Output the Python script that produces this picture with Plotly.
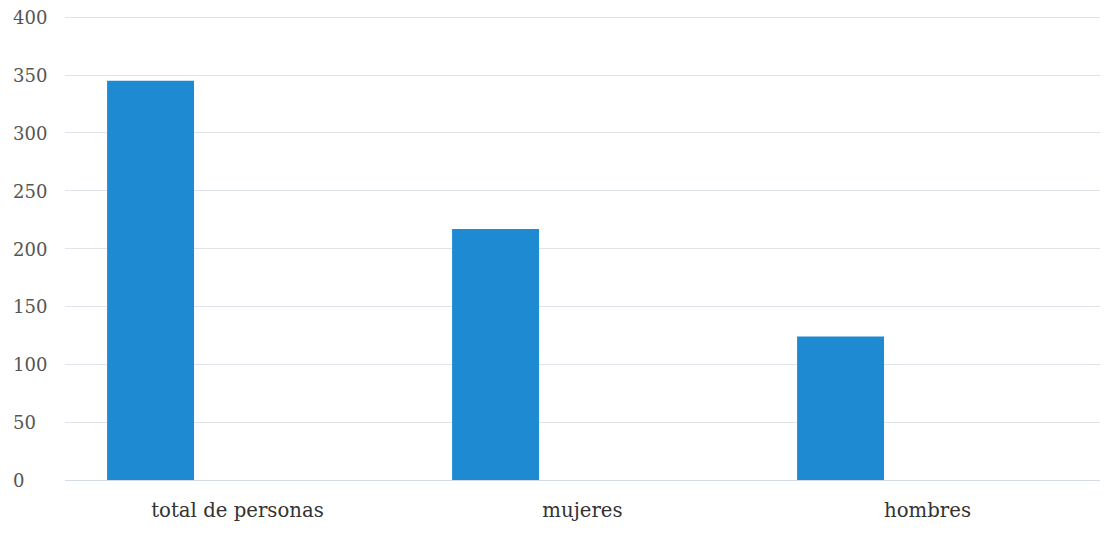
import plotly.graph_objects as go

categories = ["total de personas", "mujeres", "hombres"]
values = [345, 217, 124]
y_ticks = [0, 50, 100, 150, 200, 250, 300, 350, 400]

# page body has an 8px default margin; compensate
W, H = 1104, 538
ml, mr, mt, mb = 57, 12, 8, 66
plot_w = W - ml - mr

fig = go.Figure()
fig.add_trace(go.Bar(
    x=categories, y=values,
    width=0.252, offset=-0.378,
    marker=dict(color="#1e8ad2", line=dict(width=0)),
    showlegend=False,
))

for t in y_ticks:
    fig.add_annotation(
        x=-53 / plot_w, xref="paper", y=t, yref="y",
        text=str(t), showarrow=False, xanchor="left", yanchor="middle",
        height=16, borderpad=0,
        font=dict(family="DejaVu Serif", size=18, color="#555555"),
    )

fig.update_layout(
    width=W, height=H,
    margin=dict(l=ml, r=mr, t=mt, b=mb, autoexpand=False),
    paper_bgcolor="white", plot_bgcolor="white",
    xaxis=dict(
        showgrid=False, showline=False, zeroline=False,
        tickfont=dict(family="DejaVu Serif", size=19.7, color="#333333"),
        ticklabelstandoff=16,
    ),
    yaxis=dict(
        range=[0, 401], tickvals=y_ticks, showticklabels=False,
        showgrid=True, gridcolor="#dfe4ea", gridwidth=1,
        zeroline=True, zerolinecolor="#d5dbe2", zerolinewidth=1,
        showline=False,
    ),
)

fig.write_html("out.html")
